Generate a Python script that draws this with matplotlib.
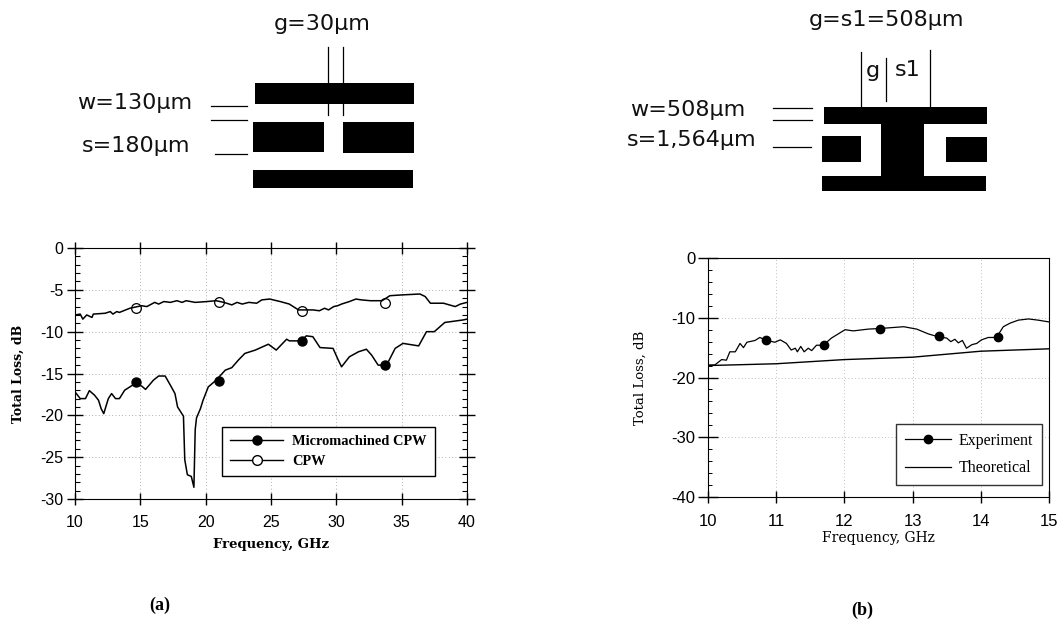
import matplotlib
matplotlib.use("Agg")
import matplotlib.pyplot as plt
from matplotlib.lines import Line2D
from matplotlib.patches import Rectangle
from matplotlib.ticker import MultipleLocator

W, H = 1060, 625

plt.rcParams["axes.unicode_minus"] = False

# chart (a)
micro_x = [10.0, 10.4, 10.8, 11.1, 11.5, 11.8, 12.0, 12.2, 12.55, 12.8, 13.1, 13.4, 13.8, 14.2, 14.6, 15.1, 15.4,
           16.0, 16.4, 16.9, 17.3, 17.65, 17.85, 18.3, 18.4, 18.6, 18.9, 19.1, 19.2, 19.3, 19.6, 19.8, 20.2, 20.8,
           21.5, 22.0, 22.5, 23.0, 23.8, 24.8, 25.4, 26.2, 26.4, 27.3, 27.7, 28.2, 28.75, 29.75, 30.15, 30.4, 31.0,
           31.7, 32.3, 32.7, 33.2, 33.85, 34.5, 35.1, 36.3, 36.9, 37.5, 38.3, 39.7, 40.0]
micro_y = [-17.2, -18.0, -18.0, -17.05, -17.6, -18.2, -19.2, -19.8, -18.0, -17.4, -18.0, -18.0, -17.0, -16.6, -16.2,
           -16.5, -16.9, -15.8, -15.3, -15.3, -16.4, -17.4, -19.0, -20.1, -25.3, -27.1, -27.3, -28.6, -21.7, -20.3,
           -19.2, -18.2, -16.6, -15.8, -14.6, -14.3, -13.4, -12.6, -12.2, -11.5, -12.2, -10.9, -11.1, -11.1, -10.5,
           -10.6, -11.9, -12.0, -13.4, -14.2, -13.0, -12.4, -12.1, -12.8, -14.0, -14.0, -12.0, -11.4, -11.7, -10.0,
           -10.0, -8.9, -8.6, -8.5]
micro_mark_x = [14.7, 21.0, 27.4, 33.7]
micro_mark_y = [-16.0, -15.9, -11.1, -14.0]

cpw_x = [10.0, 10.4, 10.6, 10.9, 11.3, 11.4, 12.3, 12.7, 12.9, 13.2, 13.4, 14.2, 15.1, 15.5, 16.1, 16.4, 16.8, 17.3,
         17.8, 18.2, 18.5, 19.2, 20.1, 20.8, 21.4, 22.0, 22.4, 22.8, 23.3, 23.9, 24.3, 24.9, 25.7, 26.4, 27.1, 27.7,
         28.2, 28.7, 29.1, 29.4, 29.8, 30.1, 30.4, 31.0, 31.5, 31.9, 32.6, 33.5, 34.1, 35.1, 36.4, 36.8, 37.2, 38.2,
         39.1, 39.5, 40.0]
cpw_y = [-8.0, -7.9, -8.5, -8.0, -8.3, -7.9, -7.8, -7.6, -7.9, -7.6, -7.7, -7.2, -6.9, -7.0, -6.5, -6.7, -6.4, -6.5,
         -6.3, -6.5, -6.3, -6.5, -6.4, -6.3, -6.5, -6.8, -6.5, -6.7, -6.5, -6.6, -6.2, -6.1, -6.4, -6.7, -7.4, -7.4,
         -7.4, -7.5, -7.2, -7.4, -7.0, -6.9, -6.7, -6.4, -6.1, -6.2, -6.3, -6.3, -5.7, -5.6, -5.5, -5.8, -6.6, -6.6,
         -7.0, -6.7, -6.5]
cpw_mark_x = [14.7, 21.0, 27.4, 33.7]
cpw_mark_y = [-7.2, -6.4, -7.5, -6.6]

# chart (b)
exp_x = [10.0, 10.1, 10.2, 10.27, 10.32, 10.4, 10.47, 10.52, 10.57, 10.69, 10.76, 10.86, 10.98, 11.06, 11.15, 11.22,
         11.28, 11.31, 11.36, 11.41, 11.47, 11.52, 11.59, 11.69, 11.81, 12.01, 12.13, 12.35, 12.52, 12.87, 13.06,
         13.23, 13.38, 13.5, 13.56, 13.62, 13.67, 13.73, 13.79, 13.87, 13.94, 14.01, 14.11, 14.23, 14.33, 14.43,
         14.55, 14.7, 14.84, 15.0]
exp_y = [-17.9, -17.9, -17.0, -17.1, -15.7, -15.7, -14.3, -15.0, -14.1, -13.8, -13.3, -13.8, -14.1, -13.7, -14.3,
         -15.4, -15.1, -15.7, -14.8, -15.7, -15.1, -15.5, -14.6, -14.6, -13.4, -12.0, -12.2, -11.9, -11.8, -11.5,
         -11.9, -12.7, -13.2, -13.4, -14.0, -13.6, -14.2, -13.8, -15.1, -14.5, -14.3, -13.7, -13.3, -13.3, -11.5,
         -10.9, -10.4, -10.2, -10.4, -10.7]
exp_mark_x = [10.85, 11.7, 12.52, 13.38, 14.25]
exp_mark_y = [-13.8, -14.6, -11.8, -13.1, -13.2]
theory_x = [10, 11, 12, 13, 14, 15]
theory_y = [-18.0, -17.7, -17.0, -16.6, -15.6, -15.2]

SANS = "Liberation Sans"
SKETCH = "DejaVu Sans"
SERIF = "DejaVu Serif"


def make_axes(left, top, right, bottom):
    return fig.add_axes([left / W, 1 - bottom / H, (right - left) / W, (bottom - top) / H])


def label_axes(ax, weight, xsize, ysize, xpad, ypad):
    ax.set_xlabel("Frequency, GHz", family=SERIF, weight=weight, fontsize=xsize, labelpad=xpad)
    ax.set_ylabel("Total Loss, dB", family=SERIF, weight=weight, fontsize=ysize, labelpad=ypad)
    for t in ax.get_xticklabels() + ax.get_yticklabels():
        t.set_family(SANS)


fig = plt.figure(figsize=(W / 100, H / 100), dpi=100, facecolor="white")

# chart (a)
ax1 = make_axes(75, 248, 467, 499)
ax1.plot(micro_x, micro_y, color="black", lw=1.1)
ax1.plot(cpw_x, cpw_y, color="black", lw=1.1)
ax1.plot(micro_mark_x, micro_mark_y, "o", color="black", ms=6.5)
ax1.plot(cpw_mark_x, cpw_mark_y, "o", mfc="none", mec="black", mew=0.9, ms=7)
ax1.set_xlim(10, 40)
ax1.set_ylim(-30, 0)
ax1.xaxis.set_major_locator(MultipleLocator(5))
ax1.yaxis.set_major_locator(MultipleLocator(5))
ax1.yaxis.set_minor_locator(MultipleLocator(1))
ax1.tick_params(axis="x", which="major", direction="inout", length=9, width=1, top=True, labelsize=11.5, pad=7)
ax1.tick_params(axis="y", which="major", direction="inout", length=11, width=1, right=True, labelsize=11.5, pad=3)
ax1.tick_params(axis="y", which="minor", direction="in", length=3.5, width=0.8, left=True, right=True)
ax1.grid(True, which="major", color="#999999", lw=0.6, ls=(0, (1, 3)))
ax1.set_axisbelow(True)
label_axes(ax1, "bold", 9.5, 9, 6, 11)
ax1.legend(handles=[Line2D([], [], color="black", lw=1, marker="o", ms=6.5, label="Micromachined CPW"),
                    Line2D([], [], color="black", lw=1, marker="o", mfc="white", ms=7, label="CPW")],
           loc="lower left", bbox_to_anchor=(147 / 392, 23 / 251), borderaxespad=0, fancybox=False, framealpha=1,
           edgecolor="black", prop={"family": "Liberation Serif", "weight": "bold", "size": 10.4}, handlelength=3.7,
           handletextpad=0.6, labelspacing=0.45, borderpad=0.55)

# chart (b)
ax2 = make_axes(708, 258, 1049, 497)
ax2.plot(exp_x, exp_y, color="black", lw=0.9)
ax2.plot(theory_x, theory_y, color="black", lw=1)
ax2.plot(exp_mark_x, exp_mark_y, "o", color="black", ms=6)
ax2.set_xlim(10, 15)
ax2.set_ylim(-40, 0)
ax2.xaxis.set_major_locator(MultipleLocator(1))
ax2.yaxis.set_major_locator(MultipleLocator(10))
ax2.yaxis.set_minor_locator(MultipleLocator(2))
ax2.tick_params(axis="x", which="major", direction="inout", length=8, width=1, labelsize=12, pad=8)
ax2.tick_params(axis="y", which="major", direction="inout", length=14, width=1, labelsize=12, pad=2)
ax2.tick_params(which="minor", direction="in", length=3, width=0.7)
ax2.grid(True, which="major", color="#aaaaaa", lw=0.6, ls=(0, (1, 3)))
ax2.set_axisbelow(True)
for s in ["top", "right"]:
    ax2.spines[s].set_linewidth(0.8)
label_axes(ax2, "normal", 10, 9.5, 1.5, 18)
ax2.legend(handles=[Line2D([], [], color="black", lw=0.9, marker="o", ms=6, label="Experiment"),
                    Line2D([], [], color="black", lw=0.9, label="Theoretical")],
           loc="lower right", bbox_to_anchor=(334 / 341, 12 / 239), borderaxespad=0, fancybox=False, framealpha=1,
           edgecolor="#333333", prop={"family": "Liberation Serif", "size": 11.5}, handlelength=2.9,
           handletextpad=0.5, labelspacing=0.7, borderpad=0.55)

# device sketches, drawn in pixel coordinates
sk = fig.add_axes([0, 0, 1, 1], zorder=-1)
sk.set_xlim(0, W)
sk.set_ylim(H, 0)
sk.axis("off")

rects = [(255, 83, 414, 104), (253, 122, 324, 152), (343, 122, 414, 153), (253, 170, 413, 188),
         (824, 107, 987, 124), (881, 124, 924, 177), (822, 136, 861, 162), (946, 137, 987, 162), (822, 176, 986, 191)]
for x0, y0, x1, y1 in rects:
    sk.add_patch(Rectangle((x0, y0), x1 - x0, y1 - y0, fc="black", ec="none"))

for x, y0, y1 in [(328, 47, 115), (343, 47, 115), (861, 52, 107), (886, 58, 101), (930, 50, 107)]:
    sk.plot([x, x], [y0, y1], color="black", lw=0.9)
for x0, x1, y in [(211, 247, 106), (211, 247, 120), (215, 247, 154),
                  (773, 812, 108), (773, 812, 120), (773, 811, 147)]:
    sk.plot([x0, x1], [y, y], color="black", lw=0.9)

for x, y, txt, ha in [(322, 24, "g=30µm", "center"), (77, 103, "w=130µm", "left"), (82, 146, "s=180µm", "left"),
                      (887, 20, "g=s1=508µm", "center"), (873, 71, "g", "center"), (908, 70, "s1", "center"),
                      (630, 110, "w=508µm", "left"), (627, 140, "s=1,564µm", "left")]:
    sk.text(x, y, txt, ha=ha, va="center", family=SKETCH, fontsize=16, color="#111111")

sk.text(160, 605, "(a)", ha="center", va="center", family="Liberation Serif", weight="bold", fontsize=13)
sk.text(862, 610, "(b)", ha="center", va="center", family="Liberation Serif", weight="bold", fontsize=13)

fig.savefig("out.png", dpi=100)
